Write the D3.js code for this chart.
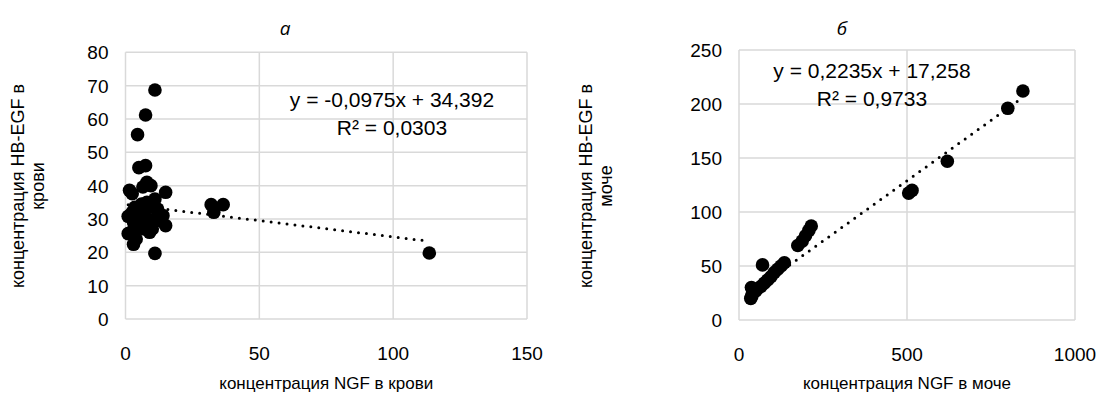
<!DOCTYPE html>
<html>
<head>
<meta charset="utf-8">
<script src="https://cdn.jsdelivr.net/npm/d3@7"></script>
<style>
  body { margin: 0; background: #fff; }
  svg text { font-family: "Liberation Sans", Arial, sans-serif; fill: #000; }
</style>
</head>
<body>
<div id="chart"></div>
<script>
// panel a: blood
var bloodNGF = [11, 7.5, 4.5, 5, 7.5, 8, 9.5, 6.5, 1.5, 2.5, 15, 11, 32, 36.5, 33, 113.5, 11, 3, 4, 1, 2, 1, 3, 4, 5, 6, 7, 8, 9, 10, 10, 12, 13, 15, 14, 6, 7, 9, 5, 8, 2.5, 4, 12, 3.5];
var bloodHB = [68.7, 61.2, 55.3, 45.4, 46, 41, 40, 39.6, 38.6, 37.6, 38, 36, 34.3, 34.3, 32, 19.8, 19.7, 22.4, 24, 25.6, 26, 30.8, 29, 31, 33, 34.5, 32, 30, 33.5, 29.5, 27, 31, 29.5, 28, 31, 28, 27, 26, 30, 35, 32, 27, 33, 33.5];
// panel b: urine
var urineNGF = [845, 800, 620, 515, 505, 215, 208, 198, 188, 175, 35, 38, 40, 42, 37, 50, 55, 65, 75, 85, 95, 105, 115, 125, 135, 70];
var urineHB = [212, 196, 147, 120, 117.5, 87, 83, 78, 73, 69, 20, 22, 25, 28, 30, 27, 29, 31, 34, 37, 40, 44, 47, 50, 53, 51];

var xTicksA = [0, 50, 100, 150], yTicksA = [0, 10, 20, 30, 40, 50, 60, 70, 80];
var xTicksB = [0, 500, 1000], yTicksB = [0, 50, 100, 150, 200, 250];

var fitA = {slope: -0.0975, icpt: 34.392, eq: "y = -0,0975x + 34,392", r2: "R² = 0,0303"};
var fitB = {slope: 0.2235, icpt: 17.258, eq: "y = 0,2235x + 17,258", r2: "R² = 0,9733"};

var svg = d3.select("#chart").append("svg")
  .attr("width", 1100).attr("height", 403);

function panel(o) {
  var x = d3.scaleLinear().domain([o.xTicks[0], o.xTicks[o.xTicks.length - 1]]).range([o.left, o.right]);
  var y = d3.scaleLinear().domain([o.yTicks[0], o.yTicks[o.yTicks.length - 1]]).range([o.bottom, o.top]);
  var g = svg.append("g");

  // grid
  g.selectAll(".gx").data(o.xTicks).enter().append("line")
    .attr("x1", function (d) { return x(d); }).attr("x2", function (d) { return x(d); })
    .attr("y1", o.top).attr("y2", o.bottom)
    .attr("stroke", "#d9d9d9").attr("stroke-width", 1.5);
  g.selectAll(".gy").data(o.yTicks).enter().append("line")
    .attr("y1", function (d) { return y(d); }).attr("y2", function (d) { return y(d); })
    .attr("x1", o.left).attr("x2", o.right)
    .attr("stroke", "#d9d9d9").attr("stroke-width", 1.5);

  // tick labels
  g.selectAll(".tx").data(o.xTicks).enter().append("text")
    .attr("x", function (d) { return x(d); }).attr("y", o.bottom + 41)
    .attr("text-anchor", "middle").style("font-size", "19px")
    .text(function (d) { return d; });
  g.selectAll(".ty").data(o.yTicks).enter().append("text")
    .attr("x", o.left - 17).attr("y", function (d) { return y(d) + 7; })
    .attr("text-anchor", "end").style("font-size", "19px")
    .text(function (d) { return d; });

  // points
  var pts = d3.zip(o.xs, o.ys);
  g.selectAll("circle").data(pts).enter().append("circle")
    .attr("cx", function (d) { return x(d[0]); })
    .attr("cy", function (d) { return y(d[1]); })
    .attr("r", 6.8).attr("fill", "#000");

  // trendline
  var x0 = d3.min(o.xs), x1 = d3.max(o.xs);
  g.append("line")
    .attr("x1", x(x0)).attr("y1", y(o.fit.slope * x0 + o.fit.icpt))
    .attr("x2", x(x1)).attr("y2", y(o.fit.slope * x1 + o.fit.icpt))
    .attr("stroke", "#000").attr("stroke-width", 3)
    .attr("stroke-linecap", "round").attr("stroke-dasharray", "0,8");

  // equation
  g.append("text").attr("x", o.eqX).attr("y", o.eqY).attr("text-anchor", "middle")
    .style("font-size", "21px").text(o.fit.eq);
  g.append("text").attr("x", o.eqX).attr("y", o.eqY + 28).attr("text-anchor", "middle")
    .style("font-size", "21px").text(o.fit.r2);

  // title
  g.append("text").attr("x", o.titleX).attr("y", 35).attr("text-anchor", "middle")
    .style("font-family", "'Open Sans', sans-serif")
    .style("font-size", "19px").style("font-style", "italic").text(o.title);

  // axis labels
  g.append("text").attr("x", (o.left + o.right) / 2).attr("y", 389).attr("text-anchor", "middle")
    .style("font-size", "17px").text(o.xLabel);
  var yl = g.append("text").attr("transform", "translate(" + o.yLabX + ",186) rotate(-90)")
    .attr("text-anchor", "middle").style("font-size", "18px");
  yl.append("tspan").attr("x", 0).attr("y", 0).text(o.yLabel[0]);
  yl.append("tspan").attr("x", 0).attr("y", 20).text(o.yLabel[1]);
}

panel({
  left: 125.5, right: 527, top: 52.3, bottom: 319,
  xTicks: xTicksA, yTicks: yTicksA, xs: bloodNGF, ys: bloodHB, fit: fitA,
  eqX: 392, eqY: 107, titleX: 285, title: "а",
  xLabel: "концентрация NGF в крови",
  yLabel: ["концентрация HB-EGF в", "крови"], yLabX: 24
});
panel({
  left: 739, right: 1075, top: 50, bottom: 320,
  xTicks: xTicksB, yTicks: yTicksB, xs: urineNGF, ys: urineHB, fit: fitB,
  eqX: 872, eqY: 78, titleX: 842, title: "б",
  xLabel: "концентрация NGF в моче",
  yLabel: ["концентрация HB-EGF в", "моче"], yLabX: 592
});
</script>
</body>
</html>
